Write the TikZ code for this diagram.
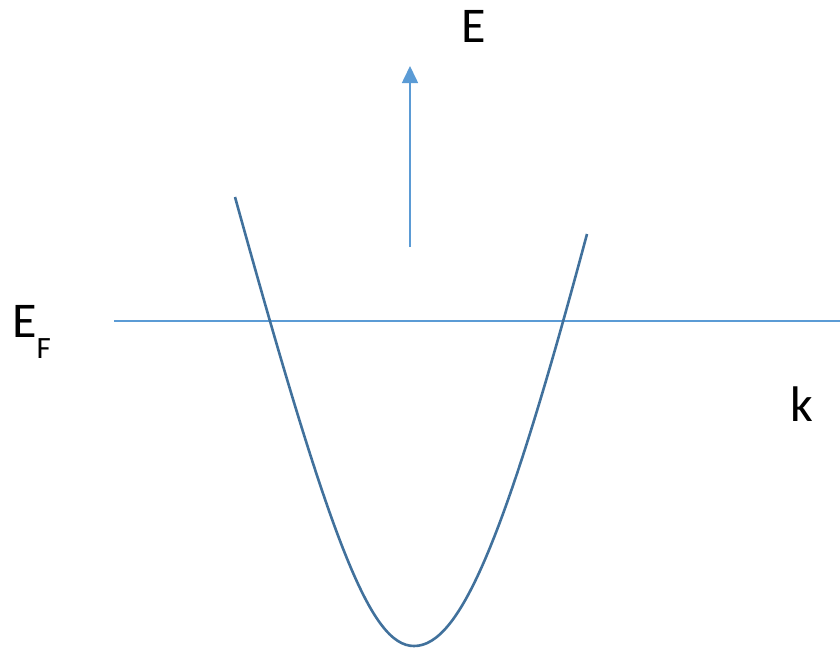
\documentclass[tikz,border=0pt]{standalone}
\usepackage{fontspec}
\setmainfont{Carlito}
\usetikzlibrary{arrows.meta}
\definecolor{bandblue}{HTML}{41719C}
\definecolor{axisblue}{HTML}{5B9BD5}
\tikzset{
    lbl/.style={inner sep=0pt, font=\fontsize{50}{50}\selectfont},
    band/.style={draw=bandblue, line width=2.6pt},
}
\begin{document}
\begin{tikzpicture}[x=1pt, y=-1pt, >={Triangle[length=17pt,width=16pt]}]
        \useasboundingbox (0,0) rectangle (840,651);
        % Axes
        \coordinate (Ebot) at (410,247);
        \coordinate (Etop) at (410,66);
        \draw[->, axisblue, line width=1.6pt] (Ebot) -- (Etop);
        \node[lbl, anchor=base] (Elbl) at (474,42) {E};
        \coordinate (EFl) at (114,321);
        \coordinate (EFr) at (840,321);
        \draw[axisblue, line width=1.1pt] (EFl) -- (EFr); % Fermi level
        \node[lbl, anchor=base west] (EFlbl) at (12,337) {E\raisebox{-0.42em}{\fontsize{31}{31}\selectfont F}};
        \node[lbl, anchor=base] (klbl) at (802,421) {k};

        % Band E(k)
        \coordinate (left) at (235,197);
        \coordinate (bottom) at (414,646);
        \coordinate (right) at (587,234);
        \draw[band] (left) .. controls (330,540) and (370,646) .. (bottom)
            .. controls (460,646) and (505,540) .. (right);
    \end{tikzpicture}
\end{document}
